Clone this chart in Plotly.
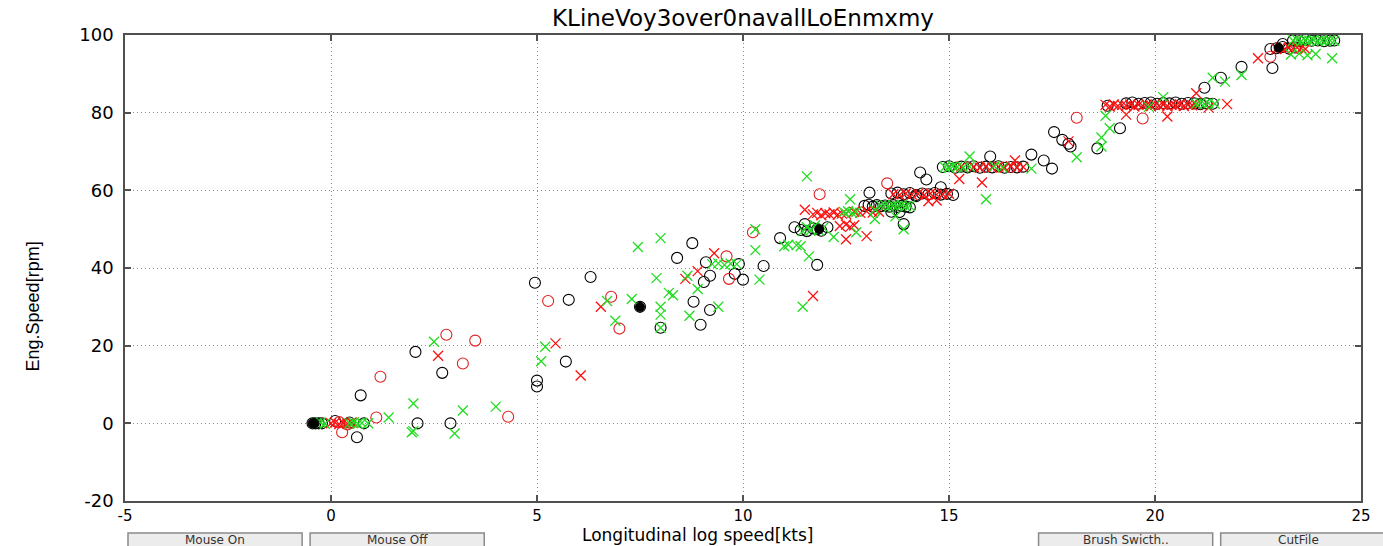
import plotly.graph_objects as go

# ---------------- data ----------------
title_text = "KLineVoy3over0navallLoEnmxmy"
x_label = "Longitudinal log speed[kts]"
y_label = "Eng.Speed[rpm]"
x_ticks = [-5, 0, 5, 10, 15, 20, 25]
y_ticks = [-20, 0, 20, 40, 60, 80, 100]
buttons = ["Mouse On", "Mouse Off", "Brush Swicth..", "CutFile"]

black_circle_x = [
    -0.45, -0.38, -0.3, -0.22, 0.1, 0.45, 0.8,
    0.72, 0.63, 2.05, 2.7, 2.1, 2.9, 5.0, 5.0, 5.7, 4.95, 5.77, 6.3, 7.5, 8.0, 8.77, 8.4,
    8.8, 9.2, 8.97, 9.05, 9.2, 9.1, 9.9, 9.8, 10.0, 10.5, 10.9, 11.8, 11.5, 11.8, 13.9,
    13.07, 14.3, 14.45, 14.8, 16.0, 17.0, 17.3, 17.5, 17.55, 17.75, 17.9, 17.95, 18.6,
    19.15, 21.2, 21.6, 22.1, 22.8, 23.1, 22.85,
    11.25, 11.4, 11.55, 11.7, 11.9, 12.05,
    12.95, 13.05, 13.15, 13.25, 13.35, 13.45, 13.55, 13.65, 13.75, 13.85, 13.95, 14.05, 13.6, 13.8,
    13.6, 13.75, 13.9, 14.05, 14.2, 14.35, 14.5, 14.65, 14.8, 14.95, 15.1, 14.2,
    14.85, 15.0, 15.15, 15.3, 15.45, 15.6, 15.75, 15.9, 16.05, 16.2, 16.35, 16.5, 16.65, 16.8,
    19.3, 19.45, 19.6, 19.75, 19.9, 20.05, 20.2, 20.35, 20.5, 20.65, 20.8, 20.95, 21.1, 21.25, 21.4, 18.85,
    23.35, 23.5, 23.65, 23.8, 23.95, 24.1, 24.25, 24.35, 22.95, 23.1, 23.25, 23.4,
]
black_circle_y = [
    0, 0, 0, 0, 0.6, 0.2, 0,
    7.2, -3.6, 18.4, 13, 0, 0, 11, 9.5, 15.9, 36.2, 31.8, 37.7, 30, 24.6, 46.4, 42.6,
    31.3, 29.2, 25.4, 36.4, 38, 41.5, 41, 38.5, 37, 40.5, 47.7, 40.8, 51.3, 50, 51.3,
    59.4, 64.6, 62.8, 60.8, 68.7, 69.2, 67.7, 65.6, 75, 73, 72, 71.3, 70.8,
    76, 86.4, 89, 91.8, 96.4, 97.7, 91.5,
    50.5, 49.8, 49.5, 50.2, 49.6, 50.5,
    56, 56.3, 55.8, 56.2, 55.9, 56.1, 55.8, 56.2, 55.7, 56, 55.8, 55.6, 54.5, 54.4,
    59.2, 59.4, 59, 59.3, 58.8, 59.2, 59, 59.3, 58.9, 59.1, 58.8, 58.5,
    66, 66.2, 65.8, 66.1, 65.9, 66.2, 65.8, 66.1, 65.9, 66.2, 65.8, 66, 65.9, 66.1,
    82.4, 82.6, 82.3, 82.5, 82.6, 82.3, 82.5, 82.4, 82.6, 82.3, 82.5, 82.4, 82.2, 82.4, 82.3, 81.8,
    98.6, 98.4, 98.7, 98.5, 98.6, 98.4, 98.5, 98.6, 96.6, 96.9, 96.5, 96.8,
]

red_circle_x = [0.27, 1.1, 1.2, 2.8, 3.5, 3.2, 4.3, 5.27, 6.8, 7.0, 9.6, 9.66, 10.24,
                11.86, 13.5, 18.1, 19.7, 22.8, 0.2, 0.4]
red_circle_y = [-2.3, 1.5, 12, 22.8, 21.3, 15.4, 1.7, 31.5, 32.6, 24.4, 43, 37.2, 49.2,
                59, 61.8, 78.7, 78.5, 94.4, 0.3, -0.3]

red_x_x = [
    2.6, 5.45, 6.06, 6.55, 8.6, 8.9, 9.3, 11.7, 12.5, 13.0, 14.5, 14.7, 15.25, 15.8, 16.6,
    17.9, 19.3, 20.3, 21.3, 21.0, 22.5, 11.5, 21.75,
    0.0, 0.1, 0.2, 0.3, 0.4, 0.5,
    11.7, 11.8, 11.9, 12.0, 12.1, 12.2, 12.3, 12.4, 12.5, 12.7, 12.85, 13.0, 13.15, 13.3,
    12.35, 12.5, 12.6, 12.7,
    13.65, 13.8, 13.95, 14.1, 14.25, 14.4, 14.55, 14.7, 14.85, 15.0,
    15.6, 15.75, 15.9, 16.05, 16.2, 16.35, 16.5, 16.65, 16.8, 15.3,
    18.8, 18.9, 19.0, 19.1, 19.2, 19.3, 19.4, 19.5, 19.6, 19.7, 19.8, 19.9, 20.0, 20.1,
    20.2, 20.3, 20.4, 20.5, 20.6, 20.7, 20.8, 20.9, 21.0,
    22.95, 23.05, 23.15, 23.25, 23.35, 23.45, 23.55, 23.65,
]
red_x_y = [
    17.4, 20.6, 12.3, 30, 37.2, 39.2, 43.8, 32.8, 47.4, 48.2, 57.2, 57.4, 62.9, 62, 67.7,
    72.6, 79.5, 79, 81.3, 85, 94, 55, 82.2,
    0, 0.2, -0.2, 0.1, -0.1, 0.2,
    53.8, 54.2, 53.6, 54.1, 53.8, 54.3, 53.7, 54, 53.9, 54.5, 54.2, 54.6, 54.3, 54.5,
    50.8, 51.2, 50.6, 51,
    59, 58.8, 59.2, 58.9, 59.1, 58.8, 59.2, 58.9, 59, 59.1,
    66, 65.8, 66.2, 65.9, 66.1, 65.8, 66.2, 65.9, 66, 66.1,
    82, 81.6, 82.1, 81.7, 82, 81.8, 82.1, 81.6, 82, 81.8, 82.1, 81.7, 82, 81.8,
    82.1, 81.7, 82, 81.8, 82.1, 81.7, 82, 81.9, 82.1,
    96.5, 96.8, 96.4, 96.7, 96.5, 96.8, 96.6, 96.4,
]

green_x_x = [
    1.4, 2.5, 2.0, 3.2, 4.0, 1.96, 2.0, 3.0, 5.1, 5.2, 6.7, 7.3, 6.9, 7.45, 8.0, 7.9, 8.0,
    8.0, 8.0, 8.2, 8.3, 8.7, 8.9, 8.65, 9.4, 10.4, 10.3, 10.3, 11.1, 11.4, 11.45, 11.55,
    11.6, 15.5, 15.9, 17.0, 18.1, 18.7, 18.7, 18.8, 18.9, 20.2, 21.4, 21.7, 22.1, 24.3,
    9.25, 9.4, 9.55, 9.7, 9.85, 11.0, 11.3, 12.2, 12.75, 13.2, 13.7, 13.9, 12.6, 13.2,
    -0.35, -0.25, -0.15, 0.45, 0.55, 0.65, 0.75, 0.9,
    11.45, 11.55, 11.65, 11.75, 11.85, 11.95, 12.45, 12.55, 12.65, 12.75,
    13.35, 13.45, 13.55, 13.65, 13.75, 13.85, 13.95, 14.05,
    14.9, 15.0, 15.1, 15.2, 15.35, 15.5, 16.1, 16.3,
    21.0, 21.1, 21.2, 21.3, 21.45, 19.85,
    23.35, 23.45, 23.55, 23.65, 23.75, 23.85, 23.95, 24.05, 24.15, 24.25, 24.35,
    23.3, 23.5, 23.7, 23.9,
]
green_x_y = [
    1.5, 21, 5.1, 3.3, 4.3, -2.3, -2.0, -2.6, 16, 19.7, 31.5, 32, 26.4, 45.4, 47.7, 37.4, 30,
    28, 24.6, 33.6, 33, 27.7, 34.6, 38, 30, 37, 44.6, 50, 46, 45.6, 30, 63.6,
    43, 68.7, 57.7, 65.6, 68.5, 73.6, 71.3, 79.2, 76, 84, 89, 88, 89.7, 94,
    41, 41.2, 40.8, 41.1, 41, 45.6, 45.9, 48, 49.2, 52.6, 53.3, 50, 57.7, 55,
    0, 0.2, -0.1, 0, 0.2, -0.1, 0.1, 0,
    49.5, 50.5, 49.8, 51, 49.6, 50.4, 54.4, 54.6, 54.2, 54.5,
    56, 56.2, 55.8, 56.1, 56, 56.2, 55.9, 56,
    66, 65.8, 66.2, 66, 65.9, 66.1, 66.2, 65.9,
    82.3, 82.5, 82.2, 82.4, 82.3, 81.5,
    98.5, 98.7, 98.4, 98.6, 98.5, 98.7, 98.4, 98.6, 98.5, 98.6, 98.5,
    95, 95.2, 94.8, 95.1,
]

black_dot_x = [7.5, -0.45, -0.4, 23.0, 11.85]
black_dot_y = [30, 0, 0, 96.7, 50]

# ---------------- figure ----------------
fig = go.Figure()

fig.add_trace(go.Scatter(x=black_circle_x, y=black_circle_y, mode="markers",
                         marker=dict(symbol="circle-open", size=11, color="black",
                                     line=dict(width=1.1, color="black"))))
fig.add_trace(go.Scatter(x=red_circle_x, y=red_circle_y, mode="markers",
                         marker=dict(symbol="circle-open", size=11, color="#e02020",
                                     line=dict(width=1.1, color="#e02020"))))
fig.add_trace(go.Scatter(x=red_x_x, y=red_x_y, mode="markers",
                         marker=dict(symbol="x-thin-open", size=10, color="#ff1010",
                                     line=dict(width=1.3, color="#ff1010"))))
fig.add_trace(go.Scatter(x=green_x_x, y=green_x_y, mode="markers",
                         marker=dict(symbol="x-thin-open", size=10, color="#20dd20",
                                     line=dict(width=1.3, color="#20dd20"))))
fig.add_trace(go.Scatter(x=black_dot_x, y=black_dot_y, mode="markers",
                         marker=dict(symbol="circle", size=9, color="black",
                                     line=dict(width=1, color="black"))))

L, R, T, B = 125, 16, 35, 45
W, H = 1383, 546
PW, PH = W - L - R, H - T - B


def px_to_paper_x(px):
    return (px - L) / PW


def py_to_paper_y(py):
    return (H - B - py) / PH


axis_common = dict(showline=True, linecolor="#505050", linewidth=1.5, mirror="ticks",
                   ticks="inside", ticklen=6, tickcolor="#505050", tickwidth=1.5,
                   showgrid=True, gridcolor="#8a8a8a", griddash="1px,3px", gridwidth=1,
                   zeroline=False)

fig.update_xaxes(range=[-5, 25], tickvals=x_ticks, ticktext=[str(v) for v in x_ticks],
                 ticklabelstandoff=0,
                 tickfont=dict(family="DejaVu Sans", size=15, color="black"), **axis_common)
fig.update_yaxes(range=[-20, 100], tickvals=y_ticks, ticktext=[str(v) for v in y_ticks],
                 ticklabelstandoff=6,
                 tickfont=dict(family="DejaVu Sans", size=18, color="black"), **axis_common)

annotations = [
    dict(text=title_text, x=0.5, y=py_to_paper_y(18), xref="paper", yref="paper",
         showarrow=False, font=dict(family="DejaVu Sans", size=23, color="black"),
         xanchor="center", yanchor="middle"),
    dict(text=x_label, x=px_to_paper_x(700), y=py_to_paper_y(546), xref="paper", yref="paper",
         showarrow=False, font=dict(family="DejaVu Sans", size=17, color="black"),
         xanchor="center", yanchor="bottom", borderpad=0),
    dict(text=y_label, x=px_to_paper_x(33), y=py_to_paper_y(306), xref="paper", yref="paper",
         showarrow=False, textangle=-90, font=dict(family="Liberation Sans", size=18, color="black"),
         xanchor="center", yanchor="middle"),
]

shapes = []
button_spans = [(128, 303), (311, 486), (1043, 1218), (1226, 1395)]
for label, (x0, x1) in zip(buttons, button_spans):
    shapes.append(dict(type="rect", xref="paper", yref="paper",
                       x0=px_to_paper_x(x0), x1=px_to_paper_x(x1),
                       y0=py_to_paper_y(556), y1=py_to_paper_y(533),
                       fillcolor="#ececec", line=dict(color="#8a8a8a", width=1.5)))
    cx = (x0 + min(x1, W)) / 2 if label == "CutFile" else (x0 + x1) / 2
    annotations.append(dict(text=label, x=px_to_paper_x(cx),
                            y=py_to_paper_y(539.5), xref="paper", yref="paper",
                            showarrow=False, xanchor="center", yanchor="middle",
                            font=dict(family="DejaVu Sans", size=12, color="#333333")))

fig.update_layout(
    width=W, height=H,
    margin=dict(l=L, r=R, t=T, b=B),
    paper_bgcolor="white", plot_bgcolor="white",
    showlegend=False,
    annotations=annotations,
    shapes=shapes,
)

fig.write_html("out.html")
